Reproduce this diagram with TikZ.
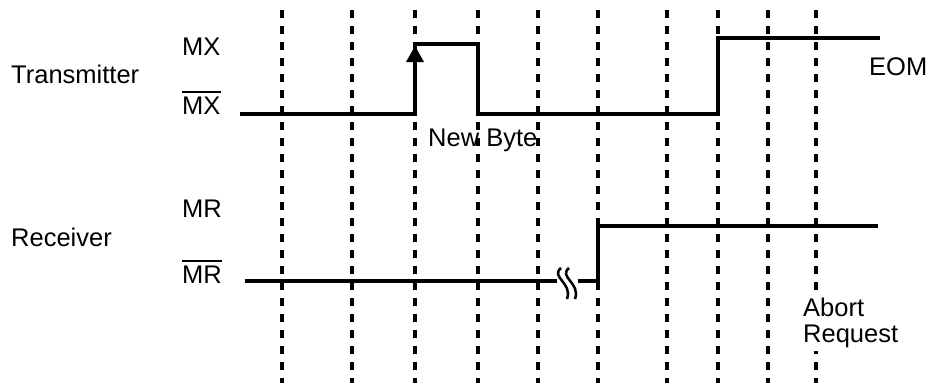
\documentclass[tikz,border=0pt]{standalone}
\usepackage{fontspec}
\setmainfont{Liberation Sans}
\usetikzlibrary{calc}
\begin{document}
\begin{tikzpicture}[x=1pt,y=-1pt,
  lbl/.style={inner sep=0pt,anchor=base west,font=\fontsize{25.5}{30}\selectfont},
  sig/.style={line width=3.5pt,line join=miter,line cap=butt},
  grid/.style={line width=3.6pt,dash pattern=on 7.5pt off 8.5pt},
  bar/.style={line width=2.2pt}]
\useasboundingbox (0,0) rectangle (930,388);
% dashed vertical lines
\foreach \x in {282,352,415,478,538,598,667,718,768,816}{
  \coordinate (t\x) at (\x,10);
  \coordinate (b\x) at (\x,383);
  \draw[grid] (t\x) -- (b\x);
}
% labels
\node[lbl] (tx) at (11,83) {Transmitter};
\node[lbl] (rx) at (11,246) {Receiver};
\node[lbl] (mx) at (182,55) {MX};
\node[lbl] (mxb) at (182,114) {MX};
\draw[bar] ($(mxb.north west)+(0,-4)$) -- ($(mxb.north east)+(0,-4)$);
\node[lbl] (mr) at (182,217) {MR};
\node[lbl] (mrb) at (182,283) {MR};
\draw[bar] ($(mrb.north west)+(0,-4)$) -- ($(mrb.north east)+(0,-4)$);
\node[lbl] (nb) at (428,146) {New Byte};
\node[lbl] (eom) at (869,75) {EOM};
\node[lbl,fill=white,inner ysep=4pt] (ab) at (803,316) {Abort};
\node[lbl,fill=white,inner ysep=4pt] (rq) at (803,342) {Request};
% transmitter waveform
\coordinate (x0) at (240,114);
\coordinate (x1) at (415,114);
\coordinate (x2) at (415,44);
\coordinate (x3) at (478,44);
\coordinate (x4) at (478,114);
\coordinate (x5) at (718,114);
\coordinate (x6) at (718,38);
\coordinate (x7) at (880,38);
\draw[sig] (x0) -- (x1) -- (x2) -- (x3) -- (x4) -- (x5) -- (x6) -- (x7);
\fill (415,46) -- (406,62) -- (424,62) -- cycle;
% receiver waveform
\coordinate (r0) at (245,281);
\coordinate (r1) at (557,281);
\coordinate (r2) at (578,281);
\coordinate (r3) at (598,281);
\coordinate (r4) at (598,226);
\coordinate (r5) at (878,226);
\draw[sig] (r0) -- (r1);
\draw[sig] (r2) -- (r3) -- (r4) -- (r5);
% break symbol
\foreach \d in {0,8}{
  \draw[line width=2.5pt] (561+\d,268) .. controls (550+\d,277) and (573+\d,283) .. (567+\d,299);
}
\end{tikzpicture}
\end{document}
